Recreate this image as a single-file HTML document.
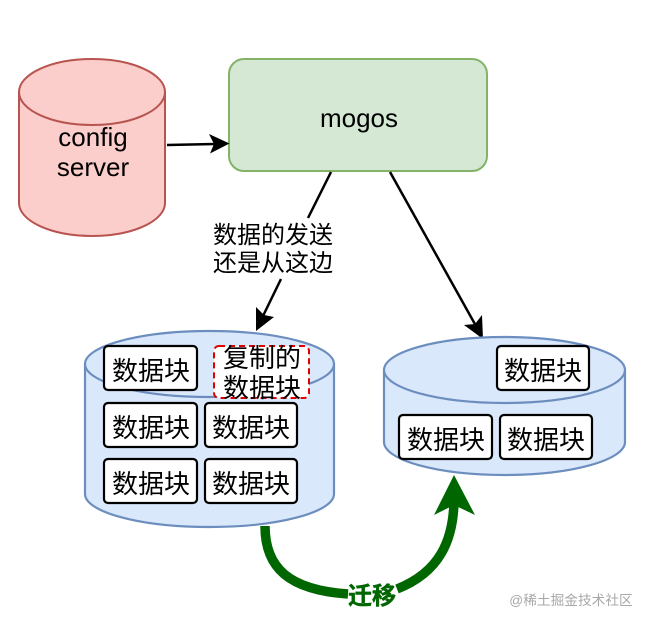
<!DOCTYPE html>
<html>
<head>
<meta charset="utf-8">
<style>
html,body{margin:0;padding:0;background:#fff;width:650px;height:626px;overflow:hidden}
svg{display:block;position:absolute;left:0;top:0}
text{font-family:"Liberation Sans","Noto Sans CJK SC",sans-serif;fill:#000;text-anchor:middle}
.b{fill:#fff;stroke:#000;stroke-width:2.200}
.t{font-size:26px}
</style>
</head>
<body>
<svg width="650" height="626" viewBox="0 0 650 626" xmlns="http://www.w3.org/2000/svg">
<rect width="650" height="626" fill="#fff"/>

<!-- config server -->
<path d="M19 92 A73 33 0 0 1 165 92 V203 A73 33 0 0 1 19 203 Z" fill="#fbcdcb" stroke="#b85450" stroke-width="2"/>
<path d="M19 92 A73 33 0 0 0 165 92" fill="none" stroke="#b85450" stroke-width="2"/>
<text class="t" x="93" y="146">config</text>
<text class="t" x="93" y="176">server</text>

<!-- mogos -->
<rect x="229" y="59" width="258" height="112" rx="15" fill="#d5e8d4" stroke="#82b366" stroke-width="2"/>
<text class="t" x="359" y="127">mogos</text>

<!-- arrows -->
<line x1="167" y1="145" x2="215" y2="144" stroke="#000" stroke-width="2.500"/>
<path d="M229.500 143.500 L209 134 L214 144 L210 153.500 Z" fill="#000"/>
<line x1="331" y1="172" x2="308" y2="218" stroke="#000" stroke-width="2.500"/>
<line x1="281" y1="279" x2="263" y2="316" stroke="#000" stroke-width="2.500"/>
<path d="M256 331 L256 307 L264 315 L274 317 Z" fill="#000"/>
<text x="273" y="243" font-size="24">数据的发送</text>
<text x="273" y="271" font-size="24">还是从这边</text>
<line x1="390" y1="172" x2="476" y2="326" stroke="#000" stroke-width="2.500"/>
<path d="M483 339 L464 325 L475 324 L482 315 Z" fill="#000"/>

<!-- left cylinder -->
<path d="M85 364 A124.500 33 0 0 1 334 364 V494 A124.500 33 0 0 1 85 494 Z" fill="#dae8fc" stroke="#6c8ebf" stroke-width="2.200"/>
<path d="M85 364 A124.500 33 0 0 0 334 364" fill="none" stroke="#6c8ebf" stroke-width="2.200"/>
<rect class="b" x="104" y="346" width="93" height="44" rx="4"/>
<text class="t" x="151" y="380">数据块</text>
<rect x="214" y="346" width="95" height="52" rx="5" fill="#fff" stroke="#e00000" stroke-width="2" stroke-dasharray="6 4"/>
<text class="t" x="262" y="367">复制的</text>
<text class="t" x="262" y="397">数据块</text>
<rect class="b" x="104" y="403" width="93" height="44" rx="4"/>
<text class="t" x="151" y="437">数据块</text>
<rect class="b" x="205" y="403" width="92" height="44" rx="4"/>
<text class="t" x="251" y="437">数据块</text>
<rect class="b" x="104" y="459" width="93" height="44" rx="4"/>
<text class="t" x="151" y="493">数据块</text>
<rect class="b" x="205" y="459" width="92" height="44" rx="4"/>
<text class="t" x="251" y="493">数据块</text>

<!-- right cylinder -->
<path d="M384 370 A120.500 33 0 0 1 625 370 V442 A120.500 33 0 0 1 384 442 Z" fill="#dae8fc" stroke="#6c8ebf" stroke-width="2.200"/>
<path d="M384 370 A120.500 33 0 0 0 625 370" fill="none" stroke="#6c8ebf" stroke-width="2.200"/>
<rect class="b" x="497" y="346" width="92" height="44" rx="4"/>
<text class="t" x="543" y="380">数据块</text>
<rect class="b" x="399" y="415" width="93" height="44" rx="4"/>
<text class="t" x="446" y="449">数据块</text>
<rect class="b" x="500" y="415" width="92" height="44" rx="4"/>
<text class="t" x="546" y="449">数据块</text>

<!-- green migration arrow -->
<path d="M265 526 C265 568 289 590 348 594" fill="none" stroke="#006600" stroke-width="9.500"/>
<path d="M397 589 C440 572 453 540 454 502" fill="none" stroke="#006600" stroke-width="9.500"/>
<path d="M454 475 L475 515 L454 505 L434 515 Z" fill="#006600"/>
<text x="372" y="604" font-size="24" font-weight="bold" style="fill:#006600;stroke:#006600;stroke-width:0.500">迁移</text>

<!-- watermark -->
<text x="571" y="605" font-size="13.700" style="fill:#a8a8a8">@稀土掘金技术社区</text>
</svg>
</body>
</html>
